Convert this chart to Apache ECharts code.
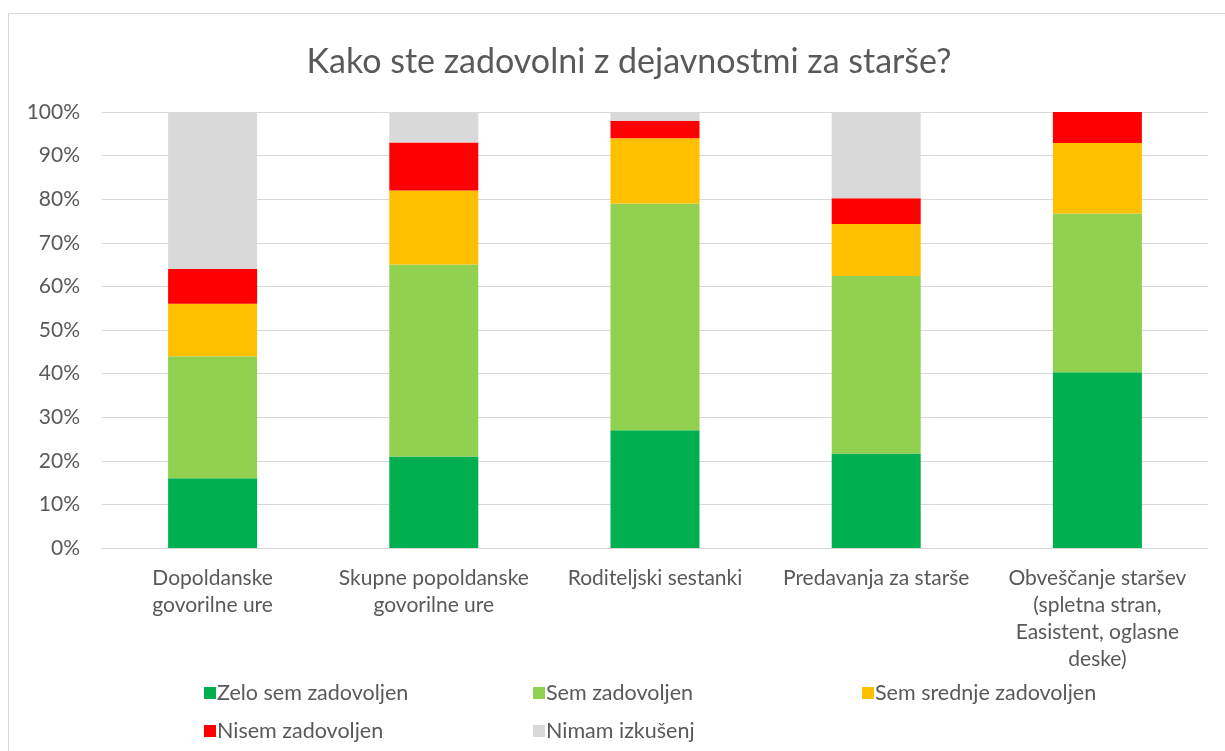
<!DOCTYPE html>
<html>
<head>
<meta charset="utf-8">
<script src="https://cdn.jsdelivr.net/npm/echarts@6/dist/echarts.min.js"></script>
<style>
    html, body { margin: 0; padding: 0; background: #fff; }
    #main { width: 1225px; height: 751px; }
</style>
</head>
<body>
<div id="main"></div>
<script>
// oznake kategorij, prelomljene kot na sliki
var categories = ['Dopoldanske\ngovorilne ure', 'Skupne popoldanske\ngovorilne ure', 'Roditeljski sestanki', 'Predavanja za starše', 'Obveščanje staršev\n(spletna stran,\nEasistent, oglasne\ndeske)'];
var seriesNames = ['Zelo sem zadovoljen', 'Sem zadovoljen', 'Sem srednje zadovoljen', 'Nisem zadovoljen', 'Nimam izkušenj'];
// delezi v %
var zelo = [16, 21, 27, 21.7, 40.3];
var sem = [28, 44, 52, 40.7, 36.4];
var srednje = [12, 17, 15, 11.9, 16.2];
var nisem = [8, 11, 4, 5.9, 7.1];
var nimam = [36, 7, 2, 19.8, 0];
var colors = ['#00B050', '#92D050', '#FFC000', '#FF0000', '#D9D9D9'];
var yTicks = [0, 10, 20, 30, 40, 50, 60, 70, 80, 90, 100];

var fontName = 'Lato, "Open Sans", sans-serif';
var textGrey = '#595959';

var chart = echarts.init(document.getElementById('main'));

var values = [zelo, sem, srednje, nisem, nimam];
var series = values.map(function (data, i) {
    return {
        name: seriesNames[i],
        type: 'bar',
        stack: 'total',
        barWidth: 89,
        data: data,
        itemStyle: { color: colors[i] }
    };
});

var option = {
    backgroundColor: '#fff',
    animation: false,
    color: colors,
    title: {
        text: 'Kako ste zadovolni z dejavnostmi za starše?',
        left: 624,
        top: 40,
        textAlign: 'center',
        textStyle: {
            fontFamily: fontName,
            fontSize: 34,
            fontWeight: 'normal',
            color: textGrey
        }
    },
    graphic: [{
        type: 'rect',
        silent: true,
        shape: { x: 8.5, y: 13.5, width: 1300, height: 800 },
        style: { fill: 'none', stroke: '#D9D9D9', lineWidth: 1 }
    }],
    grid: {
        left: 102,
        right: 17,
        top: 112,
        bottom: 203,
        containLabel: false
    },
    legend: {
        left: 199,
        top: 677,
        width: 1000,
        itemWidth: 12,
        itemHeight: 12,
        itemGap: 16,
        icon: 'rect',
        data: seriesNames,
        textStyle: {
            fontFamily: fontName,
            fontSize: 21.5,
            color: textGrey,
            width: 300,
            lineHeight: 20,
            padding: [0, 0, 0, -4]
        }
    },
    xAxis: {
        type: 'category',
        data: categories,
        axisLine: { show: true, lineStyle: { color: '#D9D9D9', width: 1 } },
        axisTick: { show: false },
        axisLabel: {
            interval: 0,
            margin: 17,
            fontFamily: fontName,
            fontSize: 21,
            lineHeight: 27,
            color: textGrey
        }
    },
    yAxis: {
        type: 'value',
        min: 0,
        max: 100,
        interval: 10,
        axisLine: { show: false },
        axisTick: { show: false },
        splitLine: { lineStyle: { color: '#D9D9D9', width: 1 } },
        axisLabel: {
            margin: 22,
            fontFamily: fontName,
            fontSize: 21,
            color: textGrey,
            customValues: yTicks,
            formatter: function (v) { return v + '%'; }
        }
    },
    series: series
};

chart.setOption(option);
</script>
</body>
</html>
